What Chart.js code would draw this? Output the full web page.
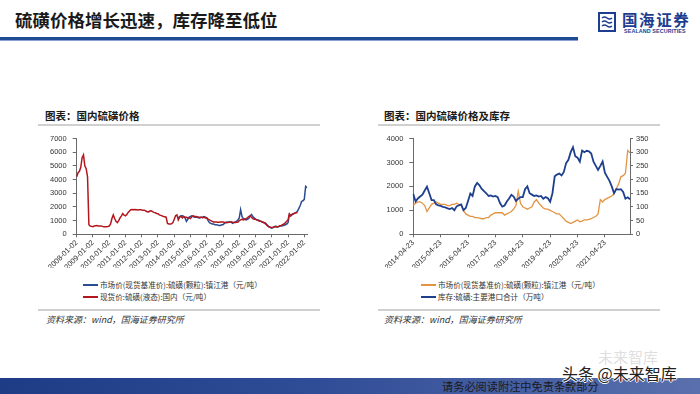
<!DOCTYPE html>
<html>
<head>
<meta charset="utf-8">
<script src="https://cdn.jsdelivr.net/npm/chart.js@4.4.0/dist/chart.umd.min.js"></script>
<style>
  body { margin: 0; width: 700px; height: 394px; position: relative; overflow: hidden; background: #fff;
         font-family: "Noto Sans CJK SC", "Noto Sans", sans-serif; }
  .abs { position: absolute; }
  #title { left: 15px; top: 8px; font-size: 17.5px; font-weight: bold; color: #1a1a1a; line-height: 24px; white-space: nowrap; }
  #rule { left: 0; top: 37px; width: 578px; height: 3px; background: #1f4a94; border-bottom: 1px solid #8aa3d2; }
  #brand { left: 622px; top: 10px; font-size: 15.5px; font-weight: bold; color: #1d3d8f; letter-spacing: 1.6px; line-height: 18px; }
  #brand-en { left: 624px; top: 28px; font-family: Arial, sans-serif; font-size: 5.4px; font-weight: bold; color: #1d3d8f; letter-spacing: 0.1px; }
  .sec { font-size: 10.5px; font-weight: bold; color: #1a1a1a; line-height: 14px; white-space: nowrap; }
  .hr { height: 2px; background: #d0d0d0; }
  .legend { font-size: 7.6px; color: #333; }
  .li { height: 12px; line-height: 12px; white-space: nowrap; }
  .sw { display: inline-block; width: 15px; height: 1.5px; vertical-align: middle; margin-right: 2px; position: relative; top: -1px; }
  .src { font-size: 9px; font-style: italic; color: #333; white-space: nowrap; }
  #footer { left: 0; top: 378px; width: 700px; height: 16px;
            background: linear-gradient(to right, #1e3b85 0%, #2f4c96 45%, #5a70ad 100%); }
  #footer-text { left: 442px; top: 378px; font-size: 11.2px; color: #1a1a1a; line-height: 17px; white-space: nowrap; }
  #wm1 { left: 598px; top: 346px; font-size: 15px; color: rgba(170,170,170,0.4); white-space: nowrap; }
  #wm2 { left: 562px; top: 361px; font-size: 16px; color: #222; white-space: nowrap;
         text-shadow: 1px 0 #fff, -1px 0 #fff, 0 1px #fff, 0 -1px #fff; }
</style>
</head>
<body>
<div id="title" class="abs">硫磺价格增长迅速，库存降至低位</div>
<div id="rule" class="abs"></div>
<svg class="abs" style="left:598px;top:12px" width="18" height="20" viewBox="0 0 18 20">
  <rect x="1" y="1" width="16" height="18" fill="none" stroke="#1d3d8f" stroke-width="2"/>
  <path d="M4 6 q2.5 -2 5 0 t5 0 M4 10 q2.5 -2 5 0 t5 0 M4 14 q2.5 -2 5 0 t5 0" fill="none" stroke="#1d3d8f" stroke-width="1.5"/>
</svg>
<div id="brand" class="abs">国海证券</div>
<div id="brand-en" class="abs">SEALAND SECURITIES</div>

<div class="abs sec" style="left:45px;top:109px">图表：国内硫磺价格</div>
<div class="abs hr" style="left:38px;top:124px;width:282px"></div>
<canvas id="leftChart" class="abs" style="left:30px;top:128px" width="290" height="140"></canvas>
<div class="abs legend" style="left:83px;top:279px">
  <div class="li"><span class="sw" style="background:#2a4d8f"></span>市场价(现货基准价):硫磺(颗粒):镇江港（元/吨）</div>
  <div class="li"><span class="sw" style="background:#b4161e"></span>现货价:硫磺(液态):国内（元/吨）</div>
</div>
<div class="abs hr" style="left:38px;top:309px;width:282px;height:1.5px"></div>
<div class="abs src" style="left:46px;top:313px">资料来源：wind，国海证券研究所</div>

<div class="abs sec" style="left:384px;top:109px">图表：国内硫磺价格及库存</div>
<div class="abs hr" style="left:378px;top:124px;width:282px"></div>
<canvas id="rightChart" class="abs" style="left:370px;top:128px" width="300" height="140"></canvas>
<div class="abs legend" style="left:421px;top:279px">
  <div class="li"><span class="sw" style="background:#e39443"></span>市场价(现货基准价):硫磺(颗粒):镇江港（元/吨）</div>
  <div class="li"><span class="sw" style="background:#1d3f8e"></span>库存:硫磺:主要港口合计（万吨）</div>
</div>
<div class="abs hr" style="left:378px;top:309px;width:282px;height:1.5px"></div>
<div class="abs src" style="left:384px;top:313px">资料来源：wind，国海证券研究所</div>

<div id="footer" class="abs"></div>
<div id="footer-text" class="abs">请务必阅读附注中免责条款部分</div>
<div id="wm1" class="abs">未来智库</div>
<div id="wm2" class="abs">头条 @未来智库</div>

<script>
// --- monthly categories ---
function monthRange(y0, m0, y1, m1) {
    const out = [];
    for (let y = y0; y <= y1; y++) {
        for (let m = 1; m <= 12; m++) {
            if (y === y0 && m < m0) continue;
            if (y === y1 && m > m1) break;
            out.push(y + '-' + String(m).padStart(2, '0'));
        }
    }
    return out;
}
const leftMonths = monthRange(2008, 1, 2022, 3);   // 171 months
const rightMonths = monthRange(2014, 4, 2022, 3);  // 96 months

// liquid sulfur, domestic spot price (yuan/t), 2008-01 .. 2021-08
const liquidPrice = [
    4200, 4500, 4600, 4900, 5600, 5800, 5000, 4800, 4200, 700, 600, 580,          // 2008
    550, 600, 620, 640, 600, 600, 600, 580, 560, 550, 550, 570,                  // 2009
    600, 750, 1150, 1420, 1150, 950, 850, 1000, 1200, 1350, 1520, 1400,          // 2010
    1350, 1450, 1600, 1700, 1800, 1820, 1800, 1820, 1800, 1780, 1800, 1790,      // 2011
    1780, 1750, 1760, 1700, 1650, 1640, 1700, 1720, 1650, 1600, 1580, 1520,      // 2012
    1500, 1420, 1380, 1350, 1300, 1280, 1250, 800, 760, 750, 760, 850,           // 2013
    1100, 1350, 1420, 1050, 1250, 1300, 1200, 1300, 1250, 1250, 1200, 1200,      // 2014
    1150, 1300, 1350, 1300, 1300, 1280, 1250, 1250, 1250, 1200, 1250, 1200,      // 2015
    1200, 1100, 1050, 1000, 950, 900, 900, 900, 880, 880, 900, 900,              // 2016
    900, 880, 870, 850, 870, 900, 900, 880, 860, 870, 880, 900,                  // 2017
    1000, 1050, 1100, 1050, 1100, 1150, 1200, 1300, 1350, 1250, 1150, 1100,      // 2018
    1100, 1050, 1000, 950, 950, 900, 880, 800, 700, 600, 550, 520,               // 2019
    500, 520, 550, 560, 550, 580, 620, 650, 700, 750, 850, 950,                  // 2020
    1050, 1500, 1350, 1450, 1500, 1550, 1580, 1600                               // 2021
];

// granular sulfur, Zhenjiang port market price (yuan/t), 2014-04 .. 2022-03
const granularPrice = [
    1200, 1300, 1350, 1350, 1300, 1200, 950, 1100, 1250,                         // 2014
    1300, 1350, 1300, 1250, 1250, 1250, 1200, 1200, 1250, 1250, 1300, 1250,      // 2015
    1200, 1000, 850, 800, 750, 750, 700, 700, 680, 650, 650, 700,                // 2016
    700, 800, 850, 900, 900, 900, 900, 800, 850, 900, 950, 1050,                 // 2017
    1200, 1800, 1300, 1150, 1100, 1050, 1100, 1150, 1350, 1450, 1300, 1200,      // 2018
    1100, 1050, 1050, 1000, 950, 900, 850, 850, 750, 650, 550, 500,              // 2019
    450, 500, 550, 600, 520, 550, 600, 600, 620, 650, 700, 750,                  // 2020
    850, 1450, 1350, 1450, 1500, 1550, 1600, 1700, 1900, 2100, 2400, 2450,       // 2021
    2550, 3500, 3400                                                             // 2022
];

// main port sulfur inventory (10k t), 2014-04 .. 2022-03
const portStock = [
    147, 120, 131, 138, 145, 160, 174, 150, 125,                                 // 2014
    125, 110, 106, 104, 100, 98, 95, 92, 96, 88, 102, 106,                       // 2015
    109, 88, 96, 122, 149, 140, 175, 188, 179, 166, 158, 150,                    // 2016
    140, 142, 138, 140, 136, 114, 101, 105, 120, 131, 144, 138,                  // 2017
    122, 130, 136, 136, 165, 175, 150, 145, 140, 142, 138, 140,                  // 2018
    130, 136, 132, 119, 150, 212, 218, 222, 215, 228, 260, 272,                  // 2019
    300, 318, 285, 280, 265, 306, 300, 305, 303, 295, 265, 250,                  // 2020
    235, 250, 266, 225, 210, 195, 175, 150, 165, 163, 165, 155,                  // 2021
    130, 135, 128                                                                // 2022
];

const leftYTicks = { min: 0, max: 7000, step: 1000 };
const rightYTicks = { min: 0, max: 4000, step: 500 };
const rightY1Ticks = { min: 0, max: 350, step: 50 };

// align series onto the monthly category axes
const liquidSeries = leftMonths.map((_, i) => i < liquidPrice.length ? liquidPrice[i] : null);
const granularOffset = leftMonths.indexOf(rightMonths[0]);
const granularSeries = leftMonths.map((_, i) => i >= granularOffset ? granularPrice[i - granularOffset] : null);

const axisColor = '#6a6a6a';
const tickFont = { family: 'Arial, "Liberation Sans", sans-serif', size: 7.5 };

function xAxis(labels, month, suffix, height) {
    return {
        type: 'category',
        grid: {
            drawOnChartArea: false, drawTicks: true, tickLength: 3,
            color: ctx => (labels[ctx.index] || '').endsWith(month) ? axisColor : 'rgba(0,0,0,0)'
        },
        border: { display: true, color: axisColor, width: 1 },
        ticks: {
            autoSkip: false, maxRotation: 45, minRotation: 45, padding: 1,
            font: tickFont, color: '#333',
            callback: (v, i) => labels[i].endsWith(month) ? labels[i] + suffix : ''
        },
        afterFit: s => { s.height = height; }
    };
}

function yAxis(t, position, width, tickLen, pad) {
    return {
        position: position,
        min: t.min, max: t.max,
        grid: { drawOnChartArea: false, drawTicks: true, tickLength: tickLen, color: axisColor },
        border: { display: true, color: axisColor, width: 1 },
        ticks: { stepSize: t.step, font: tickFont, color: '#333', padding: pad, callback: v => String(v) },
        afterFit: s => { s.width = width; }
    };
}

const common = {
    responsive: false,
    devicePixelRatio: 1,
    animation: false,
    plugins: { legend: { display: false }, tooltip: { enabled: false } },
    elements: { point: { radius: 0 }, line: { tension: 0 } }
};

// --- left chart: domestic sulfur price ---
new Chart(document.getElementById('leftChart'), {
    type: 'line',
    data: {
        labels: leftMonths,
        datasets: [
            { label: '市场价(现货基准价):硫磺(颗粒):镇江港（元/吨）', data: granularSeries,
              borderColor: '#2a4d8f', borderWidth: 1.5, order: 1 },
            { label: '现货价:硫磺(液态):国内（元/吨）', data: liquidSeries,
              borderColor: '#b4161e', borderWidth: 1.5, order: 0 }
        ]
    },
    options: Object.assign({}, common, {
        layout: { padding: { top: 8.7, right: 13, left: 0, bottom: 0 } },
        scales: {
            x: xAxis(leftMonths, '-01', '-02', 33.7),
            y: yAxis(leftYTicks, 'left', 46.7, 4, 6)
        }
    })
});

// --- right chart: price vs port inventory ---
new Chart(document.getElementById('rightChart'), {
    type: 'line',
    data: {
        labels: rightMonths,
        datasets: [
            { label: '市场价(现货基准价):硫磺(颗粒):镇江港（元/吨）', data: granularPrice,
              borderColor: '#e39443', borderWidth: 1.3, yAxisID: 'y', order: 1 },
            { label: '库存:硫磺:主要港口合计（万吨）', data: portStock,
              borderColor: '#1d3f8e', borderWidth: 1.8, yAxisID: 'y1', order: 0 }
        ]
    },
    options: Object.assign({}, common, {
        layout: { padding: { top: 8.7, right: 0, left: 0, bottom: 0 } },
        scales: {
            x: xAxis(rightMonths, '-04', '-23', 33.7),
            y: yAxis(rightYTicks, 'left', 43.3, 4, 6),
            y1: yAxis(rightY1Ticks, 'right', 40, 3, 3)
        }
    })
});
</script>
</body>
</html>
